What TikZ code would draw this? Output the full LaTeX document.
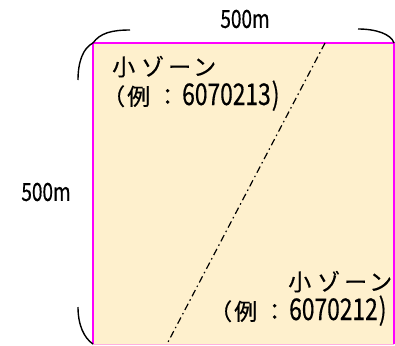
\documentclass[tikz,border=0pt]{standalone}
\usepackage{fontspec}
\newfontfamily\jp[FakeBold=0.4]{Noto Sans CJK JP}
\newfontfamily\jpnum[FakeBold=0.4, FakeStretch=0.76]{Noto Sans CJK JP}
\newcommand{\kanalabel}{小\kern6pt ゾ\kern4pt ー\kern2pt ン}
\newcommand{\exlabel}[1]{（\kern2pt 例\kern6pt ：\kern3pt {\jpnum\fontsize{30}{32}\selectfont #1\kern1pt )}}
\definecolor{zonefill}{HTML}{FEF0CD}
\definecolor{zoneedge}{HTML}{FF00FF}
\definecolor{zonelow}{HTML}{FFB0E0}
\tikzset{
  brace/.style={line width=1.4pt, black},
  kana/.style={font=\jp\fontsize{23}{25}\selectfont, inner sep=0pt, anchor=base west},
  paren/.style={font=\jp\fontsize{23}{25}\selectfont, inner sep=0pt, anchor=base west},
  dimlbl/.style={font=\jpnum\fontsize{25}{27}\selectfont, inner sep=0pt}
}
\begin{document}
\begin{tikzpicture}[x=1pt,y=-1pt]
\useasboundingbox (0,0) rectangle (395,345);
% zone square
\fill[zonefill] (93,43) rectangle (394,344);
\draw[zonelow, line width=1pt] (93,344) -- (394,344);
\draw[zoneedge, line width=1.3pt] (93,344) -- (93,43) -- (394,43) -- (394,344);
% dividing line
\coordinate (p1) at (325,43);
\coordinate (p2) at (167,344);
\draw[line width=1.2pt, dash pattern=on 7pt off 3.5pt on 1.5pt off 3.5pt] (p1) -- (p2);
% braces
\coordinate (tl) at (93,43);
\coordinate (tr) at (394,43);
\coordinate (bl) at (93,344);
\draw[brace] (tl) .. controls (100,33) and (112,30) .. (130,30);
\draw[brace] (358,29) .. controls (376,29) and (391,34) .. (tr);
\draw[brace] (tl) .. controls (83,48) and (78,62) .. (78,80);
\draw[brace] (78,307) .. controls (78,325) and (84,338) .. (bl);
% labels
\node[dimlbl] (w) at (245,19) {500m};
\node[dimlbl] (h) at (46,192) {500m};
\node[kana] (z1) at (112,75.5) {\kanalabel};
\node[paren] (z1n) at (102,105) {\exlabel{6070213}};
\node[kana] (z2) at (288,290.5) {\kanalabel};
\node[paren] (z2n) at (209,320) {\exlabel{6070212}};
\end{tikzpicture}
\end{document}
